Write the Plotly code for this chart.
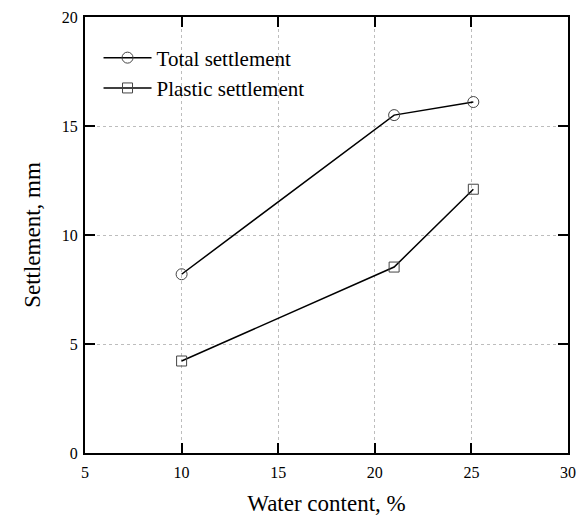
import plotly.graph_objects as go

water_content = [10, 21, 25.1]
total_settlement = [8.2, 15.5, 16.1]
plastic_settlement = [4.22, 8.53, 12.1]

x_ticks = [5, 10, 15, 20, 25, 30]
y_ticks = [0, 5, 10, 15, 20]

FONT = "Liberation Serif, Times New Roman, serif"

fig = go.Figure()
fig.add_trace(go.Scatter(
    x=water_content, y=total_settlement, mode="lines+markers",
    name="Total settlement",
    line=dict(color="black", width=1.5),
    marker=dict(symbol="circle-open", size=11, color="#444", line=dict(width=1)),
))
fig.add_trace(go.Scatter(
    x=water_content, y=plastic_settlement, mode="lines+markers",
    name="Plastic settlement",
    line=dict(color="black", width=1.5),
    marker=dict(symbol="square-open", size=10, color="#444", line=dict(width=1)),
))

axis_common = dict(
    showline=True, linecolor="black", linewidth=2, mirror="allticks",
    ticks="inside", ticklen=10, tickwidth=2, tickcolor="black",
    showgrid=True, gridcolor="#bdbdbd", griddash="dot", gridwidth=1,
    zeroline=False, automargin=False,
    tickfont=dict(family=FONT, size=16, color="black"),
)

fig.update_xaxes(
    range=[5, 30], tickvals=x_ticks, ticklabelstandoff=4,
    title=dict(text="Water content, %", font=dict(family=FONT, size=23, color="black")),
    **axis_common,
)
fig.update_yaxes(
    range=[0, 20], tickvals=y_ticks, ticklabelstandoff=2,
    title=dict(text="Settlement, mm", font=dict(family=FONT, size=23, color="black")),
    **axis_common,
)

fig.update_layout(
    width=584, height=516,
    margin=dict(l=85, r=16, t=17, b=63),
    plot_bgcolor="white", paper_bgcolor="white",
    font=dict(family=FONT, color="black"),
    legend=dict(
        x=0.028, y=0.953, xanchor="left", yanchor="top",
        bgcolor="rgba(0,0,0,0)", borderwidth=0,
        font=dict(family=FONT, size=21, color="black"),
        itemwidth=48, tracegroupgap=0,
    ),
)

fig.write_html("out.html")
